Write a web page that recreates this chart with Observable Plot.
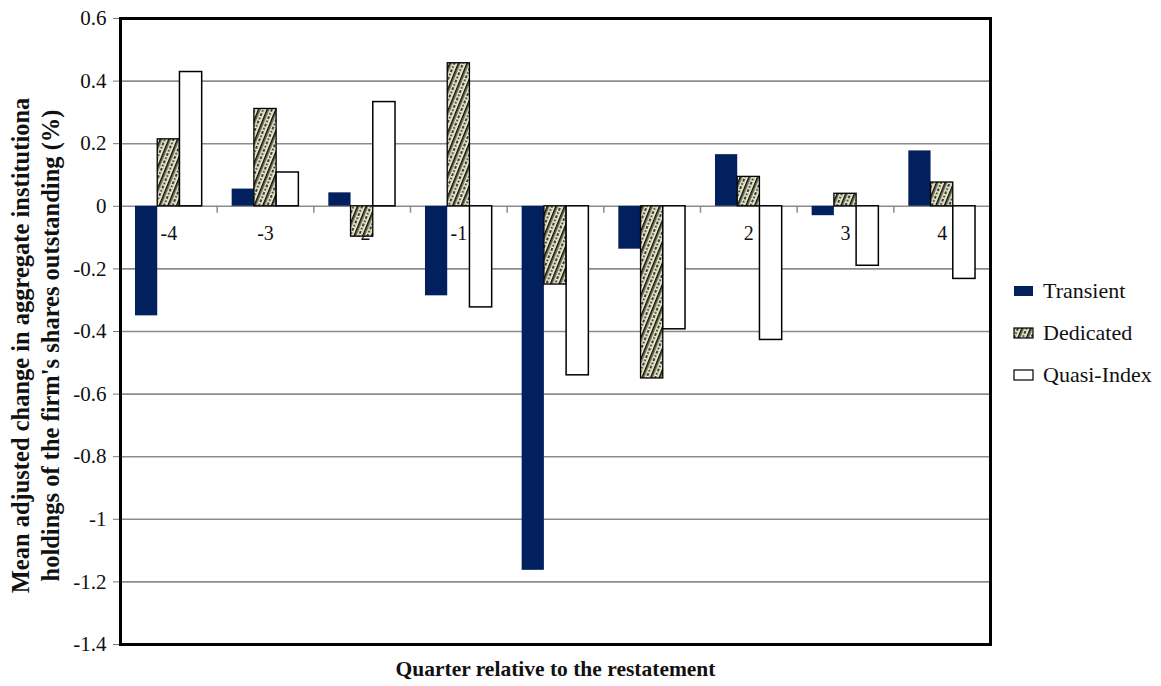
<!DOCTYPE html>
<html><head><meta charset="utf-8">
<script src="https://cdn.jsdelivr.net/npm/d3@7"></script>
<script src="https://cdn.jsdelivr.net/npm/@observablehq/plot@0.6"></script>
<style>
body{margin:0;background:#fff;font-family:"Liberation Serif","Times New Roman",serif;}
#wrap{position:relative;width:1161px;height:686px;}
#legend{position:absolute;left:1013px;top:270px;font-size:22px;color:#111;font-family:"Liberation Serif","Times New Roman",serif;}
.item{display:flex;align-items:center;height:42px;}
.item svg{margin-right:9px;display:block}
</style></head><body><div id="wrap"></div>
<script>
const quarters = ["-4","-3","-2","-1","0","1","2","3","4"];
const seriesNames = ["Transient","Dedicated","Quasi-Index"];
const transient = [-0.35,0.055,0.043,-0.286,-1.163,-0.137,0.165,-0.03,0.177];
const dedicated = [0.214,0.311,-0.097,0.457,-0.25,-0.55,0.094,0.04,0.076];
const quasiIndex = [0.429,0.108,0.333,-0.323,-0.54,-0.393,-0.427,-0.19,-0.232];
const yTicks = [0.6,0.4,0.2,0,-0.2,-0.4,-0.6,-0.8,-1,-1.2,-1.4];
const yTitle = "Mean adjusted change in aggregate institutiona\nholdings of the firm's shares outstanding (%)";
const xTitle = "Quarter relative to the restatement";

const W = 1161, H = 686, mL = 120, mR = 171, mT = 18, mB = 42;
const padInner = 0.77;
const step = (W - mL - mR) / quarters.length;
const bw = step * (1 - padInner);

const rows = (vals) => quarters.map((q, i) => ({q, v: vals[i]}));
const navy = "#02205e";
const fam = "'Liberation Serif', 'Times New Roman', serif";

const fmt = d => String(+d.toFixed(1));

const plot = Plot.plot({
  width: W, height: H,
  marginLeft: mL, marginRight: mR, marginTop: mT, marginBottom: mB,
  style: {fontFamily: fam, fontSize: "20px", color: "#111", background: "#fff"},
  x: {type: "band", domain: quarters, paddingInner: padInner, paddingOuter: padInner / 2, round: false, axis: null},
  y: {domain: [-1.4, 0.6], axis: null},
  marks: [
    Plot.ruleY(yTicks, {stroke: "#8c8c8c", strokeWidth: 1.6}),
    Plot.axisY(yTicks, {tickFormat: fmt, tickSize: 7, tickPadding: 7, stroke: "#777", fill: "#111", fontSize: 21, label: null}),
    Plot.ruleX(quarters.slice(0, -1), {x: d => d, y1: () => 0, y2: () => -0.022, dx: step / 2, stroke: "#8c8c8c", strokeWidth: 1.5}),
    Plot.text(quarters, {x: d => d, y: () => 0, dy: 27, text: d => d, fill: "#111", fontSize: 20}),
    Plot.barY(rows(transient), {x: "q", y1: () => 0, y2: "v", dx: -bw, fill: navy}),
    Plot.barY(rows(dedicated), {x: "q", y1: () => 0, y2: "v", dx: 0, fill: "url(#dedHatch)", stroke: "#000", strokeWidth: 1.3}),
    Plot.barY(rows(quasiIndex), {x: "q", y1: () => 0, y2: "v", dx: bw, fill: "#fff", stroke: "#000", strokeWidth: 1.5}),
    Plot.text([yTitle], {frameAnchor: "left", rotate: -90, dx: -86, dy: 14, text: d => d, fontWeight: "bold", fontSize: 24.5, lineHeight: 1.22, textAnchor: "middle", lineAnchor: "middle", fill: "#111"}),
    Plot.text([xTitle], {frameAnchor: "bottom", dy: 25, text: d => d, fontWeight: "bold", fontSize: 21.5, lineAnchor: "middle", fill: "#111"}),
    Plot.frame({stroke: "#000", strokeWidth: 3})
  ]
});

function hatchDefs(id) {
  return `<defs><pattern id="${id}" width="8" height="8" patternUnits="userSpaceOnUse" patternTransform="rotate(22)">
    <rect width="8" height="8" fill="#fbfbee"/>
    <rect x="0" width="1.8" height="8" fill="#111"/>
    <rect x="1.8" width="1.4" height="8" fill="#8a8a6a"/>
    <line x1="5" y1="0" x2="5" y2="8" stroke="#111" stroke-width="1.6" stroke-dasharray="2 1.5"/>
    <rect x="6.2" width="1.2" height="8" fill="#d6d690"/>
  </pattern></defs>`;
}
const defsHolder = document.createElementNS("http://www.w3.org/2000/svg", "g");
defsHolder.innerHTML = hatchDefs("dedHatch");
plot.insertBefore(defsHolder, plot.firstChild);

const wrap = document.getElementById("wrap");
wrap.appendChild(plot);

const legend = document.createElement("div");
legend.id = "legend";
const swatches = [
  `<rect x="1" y="1" width="19" height="10" fill="${navy}"/>`,
  `${hatchDefs("legHatch")}<rect x="1" y="1" width="19" height="10" fill="url(#legHatch)" stroke="#000" stroke-width="1.2"/>`,
  `<rect x="1" y="1" width="19" height="10" fill="#fff" stroke="#000" stroke-width="1.2"/>`
];
seriesNames.forEach((name, i) => {
  const it = document.createElement("div");
  it.className = "item";
  it.innerHTML = `<svg width="21" height="12">${swatches[i]}</svg><span>${name}</span>`;
  legend.appendChild(it);
});
wrap.appendChild(legend);
</script></body></html>
